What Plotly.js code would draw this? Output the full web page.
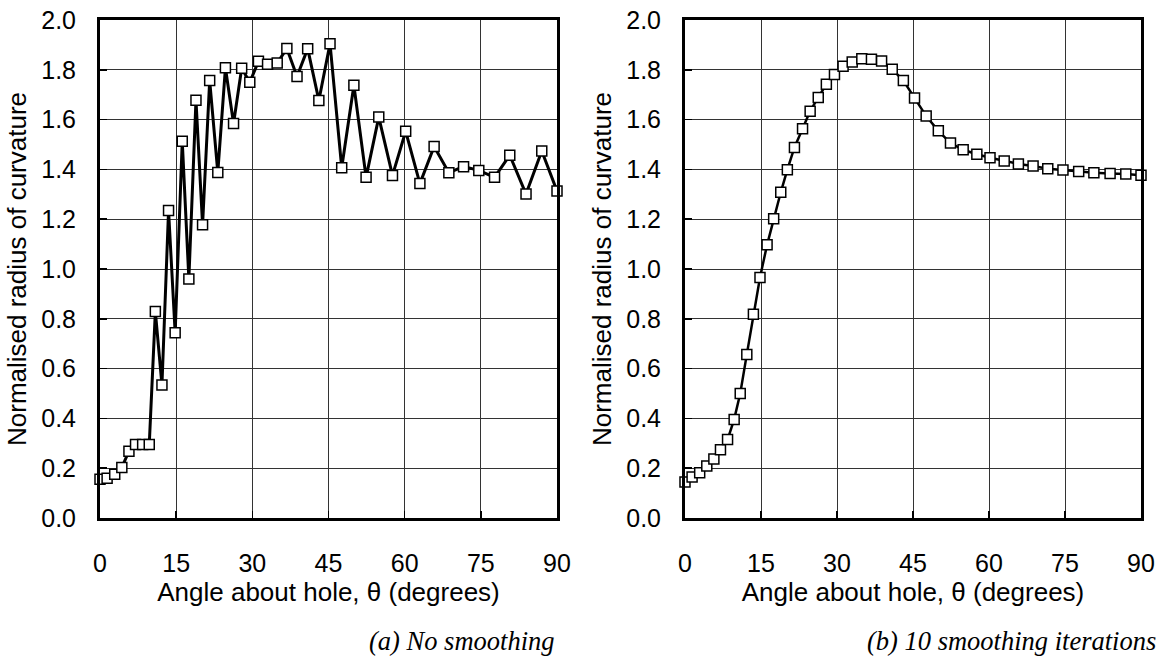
<!DOCTYPE html>
<html>
<head>
<meta charset="utf-8">
<script src="https://cdn.plot.ly/plotly-3.0.1.min.js"></script>
<style>html,body{margin:0;padding:0;background:#fff;}#chart{width:1161px;height:670px;}</style>
</head>
<body>
<div id="chart"></div>
<script>
// Angular positions of nodes (degrees)
var angles = [0, 1.4, 2.9, 4.3, 5.7, 7.0, 8.4, 9.7, 10.9, 12.2, 13.5, 14.8, 16.2, 17.5, 18.9, 20.2, 21.6, 23.2, 24.7, 26.3, 27.9, 29.5, 31.2, 33.0, 34.9, 36.8, 38.8, 40.9, 43.1, 45.3, 47.6, 50.0, 52.4, 54.9, 57.6, 60.2, 63.0, 65.8, 68.7, 71.6, 74.6, 77.7, 80.7, 83.9, 87.0, 90.0];

// (a) No smoothing
var noSmoothing = [0.156, 0.160, 0.176, 0.203, 0.268, 0.295, 0.295, 0.295, 0.829, 0.534, 1.235, 0.744, 1.513, 0.960, 1.678, 1.178, 1.757, 1.388, 1.808, 1.584, 1.806, 1.750, 1.834, 1.822, 1.827, 1.886, 1.773, 1.885, 1.677, 1.905, 1.407, 1.738, 1.368, 1.610, 1.376, 1.553, 1.343, 1.492, 1.387, 1.411, 1.396, 1.368, 1.457, 1.301, 1.474, 1.313];

// (b) 10 smoothing iterations
var smoothed = [0.145, 0.165, 0.182, 0.209, 0.237, 0.274, 0.315, 0.396, 0.500, 0.657, 0.818, 0.966, 1.097, 1.202, 1.308, 1.399, 1.488, 1.563, 1.634, 1.689, 1.742, 1.781, 1.814, 1.831, 1.844, 1.842, 1.835, 1.802, 1.757, 1.687, 1.614, 1.555, 1.506, 1.479, 1.461, 1.447, 1.434, 1.422, 1.414, 1.403, 1.398, 1.392, 1.387, 1.384, 1.382, 1.377];

var xTicks = [0, 15, 30, 45, 60, 75, 90];
var yTicks = [0.0, 0.2, 0.4, 0.6, 0.8, 1.0, 1.2, 1.4, 1.6, 1.8, 2.0];
var xTitle = 'Angle about hole, \u03B8 (degrees)';
var yTitle = 'Normalised radius of curvature';
var captions = ['(a) No smoothing', '(b) 10 smoothing iterations'];

var W = 1161, H = 670;
var tickFont = {family: 'Liberation Sans, Arial, sans-serif', size: 25, color: '#000'};
var titleFont = {family: 'Liberation Sans, Arial, sans-serif', size: 26, color: '#000'};
var capFont = {family: 'Liberation Serif, Times New Roman, serif', size: 26.5, color: '#000', style: 'italic'};

function trace(y, xa, ya, lw) {
  return {
    x: angles, y: y, xaxis: xa, yaxis: ya, type: 'scatter', mode: 'lines+markers',
    line: {color: '#000', width: lw},
    marker: {symbol: 'square', size: 10, color: '#fff', line: {color: '#000', width: 1.5}},
    cliponaxis: false, showlegend: false, hoverinfo: 'skip'
  };
}

function xaxis(domain, anchor) {
  return {
    domain: domain, anchor: anchor, range: [0, 90],
    tickmode: 'array', tickvals: xTicks, ticktext: xTicks.map(String),
    showgrid: true, gridcolor: '#333', gridwidth: 1, zeroline: false,
    showline: true, mirror: true, linecolor: '#000', linewidth: 3,
    ticks: 'inside', ticklen: 7, tickwidth: 1.5, tickcolor: '#000',
    ticklabelstandoff: 21, tickfont: tickFont,
    title: {text: xTitle, font: titleFont, standoff: 0}
  };
}
function yaxis(domain, anchor) {
  return {
    domain: domain, anchor: anchor, range: [0, 2],
    tickmode: 'array', tickvals: yTicks, ticktext: yTicks.map(function(v){return v.toFixed(1);}),
    showgrid: true, gridcolor: '#333', gridwidth: 1, zeroline: false,
    showline: true, mirror: true, linecolor: '#000', linewidth: 3,
    ticks: 'inside', ticklen: 7, tickwidth: 1.5, tickcolor: '#000',
    ticklabelstandoff: 16, tickfont: tickFont,
    title: {text: yTitle, font: titleFont, standoff: 8}
  };
}

var yDom = [(H - 518) / H, (H - 20) / H];
var layout = {
  width: W, height: H,
  margin: {l: 0, r: 0, t: 0, b: 0},
  paper_bgcolor: '#fff', plot_bgcolor: '#fff',
  xaxis: xaxis([100 / W, 557 / W], 'y'),
  yaxis: yaxis(yDom, 'x'),
  xaxis2: xaxis([685 / W, 1141 / W], 'y2'),
  yaxis2: yaxis(yDom, 'x2'),
  annotations: [
    {text: captions[0], xref: 'paper', yref: 'paper', x: 557 / W, y: (H - 641) / H,
     xanchor: 'right', yanchor: 'middle', showarrow: false, font: capFont},
    {text: captions[1], xref: 'paper', yref: 'paper', x: 1158 / W, y: (H - 641) / H,
     xanchor: 'right', yanchor: 'middle', showarrow: false, font: capFont}
  ]
};

Plotly.newPlot('chart', [trace(noSmoothing, 'x', 'y', 3), trace(smoothed, 'x2', 'y2', 2.5)], layout, {staticPlot: true});
</script>
</body>
</html>
